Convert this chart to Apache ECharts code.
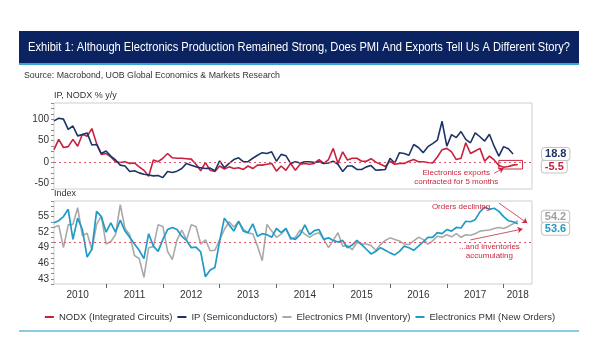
<!DOCTYPE html>
<html>
<head>
<meta charset="utf-8">
<script src="https://cdn.jsdelivr.net/npm/echarts@6/dist/echarts.min.js"></script>
<style>
html,body{margin:0;padding:0;background:#fff;}
#chart{width:600px;height:360px;}
</style>
</head>
<body>
<div id="chart"></div>
<script>
// ---- Data (monthly, Feb 2010 .. Jul 2018 axis) ----
const startYear = 2010, startMonth = 2, endYear = 2018, endMonth = 7;
const categories = [];
for (let y = startYear; y <= endYear; y++) {
  for (let m = 1; m <= 12; m++) {
    if ((y === startYear && m < startMonth) || (y === endYear && m > endMonth)) continue;
    categories.push(y + '-' + String(m).padStart(2, '0'));
  }
}
const yearLabelMonths = ['2010-07','2011-07','2012-07','2013-07','2014-07','2015-07','2016-07','2017-07','2018-04'];

const seriesNames = ['NODX (Integrated Circuits)', 'IP (Semiconductors)', 'Electronics PMI (Inventory)', 'Electronics PMI (New Orders)'];

const nodx = [29,53,34,36,53,37,65,60,78,43,18,20,12,1,-1,1,-3,-2,-11,-19,-33,5,1,9,20,10,9,9,8,7,-5,-20,-1,-19,
  -22,-9,-16,-11,-15,-13,-17,-9,-15,-7,-7,-5,-3,-21,-9,-19,-3,-19,-5,-3,-5,-3,6,-3,6,32,-3,24,5,9,9,2,2,8,
  0,-5,-10,2,-5,-3,-3,2,6,1,1,-1,-2,12,29,32,24,6,9,45,20,26,32,2,14,5,-8,-12,-10,-7,-5.5];

const ip = [96,102,100,76,84,61,64,68,40,41,20,26,14,5,-7,-9,-22,-20,-25,-28,-30,-32,-31,-36,-22,-24,-21,-15,-3,-7,-11,-13,-15,-14,
  -20,3,-13,-3,6,10,1,1,9,16,22,20,24,2,18,15,-3,1,-2,1,1,-1,1,-3,-2,2,-5,-22,-9,-9,-17,-17,-11,-8,
  -19,-18,-17,9,-2,22,20,16,41,34,22,36,43,51,95,37,64,57,71,53,45,68,59,49,65,37,14,36,31,18.8];

const pmiInventory = [52.9,53.3,49.0,53.4,53.5,56.7,51.3,51.8,48.6,53.5,55.1,49.7,50.2,51.5,57.3,52.7,51.5,47.5,46.9,43.3,49.0,49.2,53.4,53.1,48.3,46.7,50.5,52.4,50.5,53.4,53.1,49.7,50.5,48.4,
  48.5,50.5,52.5,54.0,53.0,54.0,52.6,51.8,51.7,49.3,46.5,53.5,52.2,51.0,51.6,52.7,50.6,51.0,52.4,51.6,51.0,51.6,51.9,50.6,49.0,50.4,51.9,49.3,49.4,48.6,50.0,49.7,49.7,49.4,
  48.5,49.6,50.4,50.9,50.6,50.3,49.7,49.6,50.3,51.0,50.6,49.7,50.3,51.2,51.0,51.5,51.1,51.7,51.0,51.5,51.4,51.7,52.2,52.3,52.4,52.7,52.9,52.7,53.1,53.6,54.2];

const pmiNewOrders = [53.8,54.2,55.0,56.4,50.6,54.7,52.5,47.2,48.7,56.0,55.0,52.0,53.8,52.0,54.3,52.2,51.0,49.7,48.5,46.9,51.7,49.3,48.3,50.6,52.5,52.9,52.5,51.2,50.4,49.0,49.1,48.2,43.4,44.7,
  45.2,50.3,54.7,53.4,52.2,54.1,52.2,51.9,53.6,51.2,51.7,51.5,51.0,52.7,51.9,52.7,50.9,50.6,51.5,53.4,51.5,52.3,52.5,50.6,50.9,50.4,50.1,50.4,49.0,49.5,50.4,49.6,48.7,47.8,
  48.3,49.0,48.5,48.0,47.6,48.3,49.3,49.0,48.5,49.3,50.1,51.0,51.0,51.9,51.7,52.5,52.2,52.9,52.8,54.1,54.0,54.4,55.9,56.8,56.4,56.6,56.0,55.0,54.2,54.0,53.6];

const topTicks = [-50, 0, 50, 100];
const bottomTicks = [43, 46, 49, 52, 55];

// ---- Styles ----
const C_RED = '#c8203e', C_NAVY = '#1c3469', C_GRAY = '#a9a9a9', C_TEAL = '#1f9bc6', C_ANN = '#c8283f';
const FONT = '"Liberation Sans", Arial, sans-serif';

const titleText = 'Exhibit 1: Although Electronics Production Remained Strong, Does PMI And Exports Tell Us A Different Story?';
const sourceText = 'Source: Macrobond, UOB Global Economics & Markets Research';
const ctx = document.createElement('canvas').getContext('2d');
ctx.font = '13px "Liberation Sans"';
const titleScale = 542 / ctx.measureText(titleText).width;
ctx.font = '9.5px "Liberation Sans"';
const sourceScale = 256 / ctx.measureText(sourceText).width;

const chart = echarts.init(document.getElementById('chart'), null, {renderer: 'canvas'});

function endLabel(color, dist, offY) {
  return {
    show: true, distance: dist, offset: [0, offY],
    formatter: p => String(p.value),
    color: color, fontWeight: 'bold', fontSize: 11, fontFamily: FONT,
    backgroundColor: '#fff', borderColor: '#c4c4c4', borderWidth: 1, borderRadius: 3,
    padding: [1, 3, 0, 3]
  };
}

const yAxisCommon = {
  type: 'value', axisLine: {show: false}, splitLine: {show: false},
  axisTick: {show: true, length: 3, lineStyle: {color: '#8a8a8a'}},
  axisLabel: {fontSize: 10, color: '#333', margin: 5, fontFamily: FONT},
  nameLocation: 'end', nameGap: 3,
  nameTextStyle: {align: 'left', fontSize: 9, color: '#333', fontFamily: FONT}
};

const option = {
  animation: false,
  backgroundColor: '#fff',
  graphic: [
    {type: 'rect', shape: {x: 19, y: 31, width: 560, height: 32}, style: {fill: '#0b2461'}},
    {type: 'rect', shape: {x: 19, y: 63, width: 560, height: 2}, style: {fill: '#3da3d4'}},
    {type: 'text', x: 299, y: 47.5, scaleX: titleScale, scaleY: 1,
     style: {text: titleText, fill: '#fff', font: '13px "Liberation Sans"', textAlign: 'center', textVerticalAlign: 'middle', verticalAlign: 'middle'}},
    {type: 'text', x: 24, y: 75.5, scaleX: sourceScale, scaleY: 1,
     style: {text: sourceText, fill: '#333', font: '9.5px "Liberation Sans"', textAlign: 'left', textVerticalAlign: 'middle', verticalAlign: 'middle'}},
    {type: 'rect', shape: {x: 19, y: 330, width: 560, height: 2}, style: {fill: '#8ccbe0'}}
  ],
  legend: {
    top: 307, left: 'center', icon: 'rect', itemWidth: 9, itemHeight: 2, itemGap: 5,
    textStyle: {fontSize: 9.5, color: '#333', fontFamily: FONT},
    data: seriesNames
  },
  grid: [
    {left: 54, right: 68, top: 103, height: 86, show: true, borderColor: '#cfcfcf', borderWidth: 1},
    {left: 54, right: 68, top: 201, height: 83, show: true, borderColor: '#cfcfcf', borderWidth: 1}
  ],
  xAxis: [
    {type: 'category', gridIndex: 0, data: categories, boundaryGap: false,
     axisLine: {show: false}, axisTick: {show: false}, axisLabel: {show: false}, splitLine: {show: false}},
    {type: 'category', gridIndex: 1, data: categories, boundaryGap: false,
     axisLine: {show: false}, splitLine: {show: false},
     axisTick: {show: true, length: 4, interval: (i, v) => v.endsWith('-01'), lineStyle: {color: '#666'}},
     axisLabel: {interval: (i, v) => yearLabelMonths.indexOf(v) >= 0, formatter: v => v.slice(0, 4),
                 fontSize: 10, color: '#333', margin: 6, fontFamily: FONT}}
  ],
  yAxis: [
    Object.assign({}, yAxisCommon, {gridIndex: 0, min: -62.5, max: 137.5, interval: 12.5, name: 'IP, NODX % y/y',
      axisLabel: Object.assign({}, yAxisCommon.axisLabel, {formatter: v => topTicks.indexOf(v) >= 0 ? String(v) : ''})}),
    Object.assign({}, yAxisCommon, {gridIndex: 1, min: 42, max: 58, interval: 1, name: 'Index',
      axisLabel: Object.assign({}, yAxisCommon.axisLabel, {formatter: v => bottomTicks.indexOf(v) >= 0 ? String(v) : ''})})
  ],
  series: [
    {
      name: seriesNames[0], type: 'line', xAxisIndex: 0, yAxisIndex: 0, data: nodx,
      showSymbol: false, symbol: 'none', color: C_RED, lineStyle: {width: 1.6, color: C_RED}, z: 3,
      endLabel: endLabel(C_RED, 24, 2),
      markLine: {
        silent: true, symbol: 'none', label: {show: false},
        lineStyle: {color: '#e0566c', type: [2, 3], width: 1},
        data: [
          {yAxis: 0},
          [{coord: ['2017-11', -26], symbol: 'none', lineStyle: {type: 'solid', width: 0.8, color: C_ANN}},
           {coord: ['2018-01', -14], symbol: 'arrow', symbolSize: 5}]
        ]
      },
      markArea: {
        silent: true,
        itemStyle: {color: 'rgba(0,0,0,0)', borderColor: C_ANN, borderWidth: 1},
        data: [[{coord: ['2017-12', 4]}, {coord: ['2018-05', -16]}]]
      },
      markPoint: {
        silent: true, symbol: 'circle', symbolSize: 0,
        data: [{coord: ['2017-03', -35], value: 0,
          label: {show: true, position: 'inside', formatter: 'Electronics exports\ncontracted for 5 months',
                  color: C_ANN, fontSize: 8, lineHeight: 9, fontFamily: FONT}}]
      }
    },
    {
      name: seriesNames[1], type: 'line', xAxisIndex: 0, yAxisIndex: 0, data: ip,
      showSymbol: false, symbol: 'none', color: C_NAVY, lineStyle: {width: 1.6, color: C_NAVY}, z: 4,
      endLabel: endLabel(C_NAVY, 29, 0)
    },
    {
      name: seriesNames[2], type: 'line', xAxisIndex: 1, yAxisIndex: 1, data: pmiInventory,
      showSymbol: false, symbol: 'none', color: C_GRAY, lineStyle: {width: 1.6, color: C_GRAY}, z: 3,
      endLabel: endLabel('#a0a0a0', 24, -4),
      markLine: {
        silent: true, symbol: 'none', label: {show: false},
        lineStyle: {color: '#e0566c', type: [2, 3], width: 1},
        data: [{yAxis: 50}]
      }
    },
    {
      name: seriesNames[3], type: 'line', xAxisIndex: 1, yAxisIndex: 1, data: pmiNewOrders,
      showSymbol: false, symbol: 'none', color: C_TEAL, lineStyle: {width: 1.7, color: C_TEAL}, z: 4,
      endLabel: endLabel(C_TEAL, 24, 5),
      markLine: {
        silent: true, label: {show: false},
        lineStyle: {color: C_ANN, type: 'solid', width: 0.8},
        data: [
          [{coord: ['2017-12', 57.6], symbol: 'none'}, {coord: ['2018-06', 53.75], symbol: 'arrow', symbolSize: 5}],
          [{coord: ['2017-06', 50.5], symbol: 'none'}, {coord: ['2018-05', 52.6], symbol: 'arrow', symbolSize: 5}]
        ]
      },
      markPoint: {
        silent: true, symbol: 'circle', symbolSize: 0,
        data: [
          {coord: ['2017-04', 56.8], value: 0,
           label: {show: true, position: 'inside', formatter: 'Orders declining', color: C_ANN, fontSize: 8, fontFamily: FONT}},
          {coord: ['2017-10', 48.3], value: 0,
           label: {show: true, position: 'inside', formatter: '...and inventories\naccumulating', color: C_ANN, fontSize: 8, lineHeight: 9, fontFamily: FONT}}
        ]
      }
    }
  ]
};
chart.setOption(option);
</script>
</body>
</html>
